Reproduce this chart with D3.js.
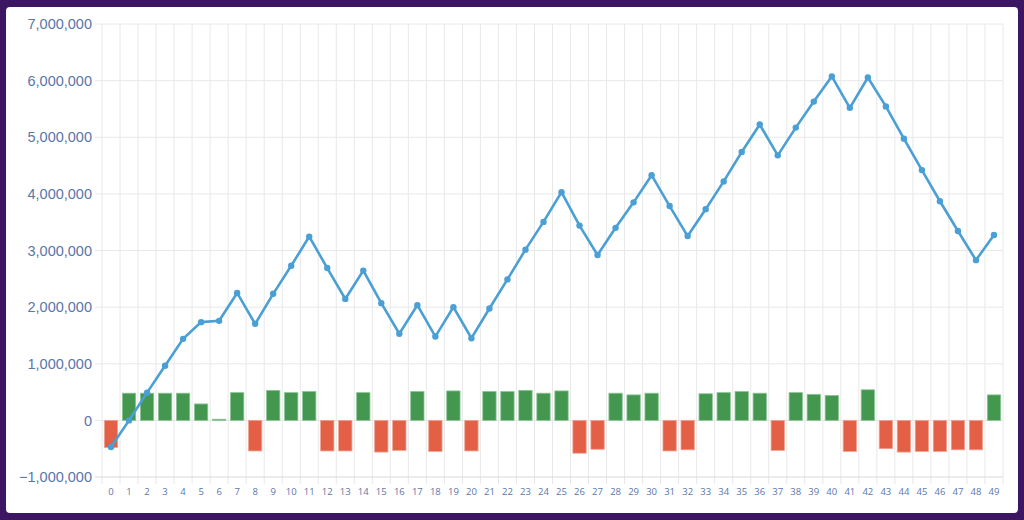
<!DOCTYPE html>
<html>
<head>
<meta charset="utf-8">
<script src="https://cdn.jsdelivr.net/npm/d3@7"></script>
<style>
  html, body { margin: 0; padding: 0; background: #3c1662; }
  #chart { position: absolute; left: 6px; top: 7px; width: 1012px; height: 506px; background: #fff; border-radius: 4px; }
  svg { position: absolute; left: 0; top: 0; }
</style>
</head>
<body>
<div id="chart"></div>
<script>
// categories 0..49
var categories = ["0","1","2","3","4","5","6","7","8","9","10","11","12","13","14","15","16","17","18","19",
  "20","21","22","23","24","25","26","27","28","29","30","31","32","33","34","35","36","37","38","39",
  "40","41","42","43","44","45","46","47","48","49"];

// bar values (per-step change)
var barValues = [-480000, 480000, 480000, 480000, 480000, 290000, 20000, 490000, -540000, 530000,
  490000, 510000, -540000, -540000, 490000, -560000, -530000, 510000, -550000, 520000,
  -540000, 510000, 510000, 530000, 480000, 520000, -580000, -510000, 480000, 450000,
  480000, -540000, -520000, 470000, 490000, 510000, 480000, -530000, 490000, 460000,
  440000, -550000, 540000, -500000, -560000, -550000, -550000, -520000, -520000, 450000];

// line values (running total)
var lineValues = [-470000, 0, 490000, 965000, 1440000, 1735000, 1758000, 2250000, 1705000, 2235000,
  2730000, 3245000, 2690000, 2145000, 2645000, 2070000, 1530000, 2035000, 1480000, 2000000,
  1450000, 1975000, 2490000, 3015000, 3505000, 4030000, 3440000, 2920000, 3400000, 3850000,
  4330000, 3785000, 3255000, 3730000, 4220000, 4740000, 5225000, 4680000, 5170000, 5630000,
  6075000, 5520000, 6055000, 5545000, 4975000, 4420000, 3870000, 3345000, 2830000, 3275000];

var yTicks = [-1000000, 0, 1000000, 2000000, 3000000, 4000000, 5000000, 6000000, 7000000];

var W = 1024, H = 520;
var margin = { left: 102, right: 21, top: 24, bottom: 43 };

var svg = d3.select("body").append("svg").attr("width", W).attr("height", H);

var x = d3.scaleBand().domain(categories).range([margin.left, W - margin.right]);
var y = d3.scaleLinear().domain([-1000000, 7000000]).range([H - margin.bottom, margin.top]);

var labelColor = "#5a76a9";
var gridColor = "#e8e8e8";

// vertical grid at band edges
var edges = categories.map(function (c) { return x(c); }).concat([x.range()[1]]);
svg.append("g").attr("class", "vgrid")
  .selectAll("line").data(edges).join("line")
  .attr("x1", function (d) { return d; }).attr("x2", function (d) { return d; })
  .attr("y1", y(7000000)).attr("y2", y(-1000000) + 7)
  .attr("stroke", gridColor).attr("stroke-width", 1);

// horizontal grid
svg.append("g").attr("class", "hgrid")
  .selectAll("line").data(yTicks).join("line")
  .attr("x1", margin.left - 7).attr("x2", x.range()[1])
  .attr("y1", function (d) { return y(d); }).attr("y2", function (d) { return y(d); })
  .attr("stroke", function (d) { return d === -1000000 ? "#d9d9d9" : gridColor; })
  .attr("stroke-width", 1);

// y axis labels
var yAxis = svg.append("g").attr("class", "y_axis")
  .attr("transform", "translate(" + (margin.left - 7) + ",0)")
  .call(d3.axisLeft(y).tickValues(yTicks).tickSize(0).tickPadding(3).tickFormat(d3.format(",")));
yAxis.select(".domain").remove();
yAxis.selectAll("text")
  .attr("fill", labelColor)
  .style("font-family", "'Liberation Sans', Arial, sans-serif")
  .style("font-size", "14.5px");

// x axis labels
var xAxis = svg.append("g").attr("class", "x_axis")
  .attr("transform", "translate(0," + (y(-1000000) + 7) + ")")
  .call(d3.axisBottom(x).tickSize(0).tickPadding(4));
xAxis.select(".domain").remove();
xAxis.selectAll("text")
  .attr("fill", labelColor)
  .style("font-family", "'Open Sans', sans-serif")
  .style("font-size", "9.5px");

// bars
var bw = x.bandwidth() * 0.74;
svg.append("g").attr("class", "rects")
  .selectAll("rect").data(barValues).join("rect")
  .attr("x", function (d, i) { return x(categories[i]) + (x.bandwidth() - bw) / 2; })
  .attr("y", function (d) { return y(Math.max(d, 0)); })
  .attr("width", bw)
  .attr("height", function (d) { return Math.abs(y(d) - y(0)); })
  .attr("fill", function (d) { return d >= 0 ? "#43974f" : "#e35f45"; })
  .attr("stroke", function (d) { return d >= 0 ? "#8cc496" : "#f0a393"; })
  .attr("stroke-width", 0.8);

// line
var line = d3.line()
  .x(function (d, i) { return x(categories[i]) + x.bandwidth() / 2; })
  .y(function (d) { return y(d); });

svg.append("path").datum(lineValues)
  .attr("d", line)
  .attr("fill", "none")
  .attr("stroke", "#4a9fd5")
  .attr("stroke-width", 2.6)
  .attr("stroke-linejoin", "miter");

svg.append("g").attr("class", "points")
  .selectAll("circle").data(lineValues).join("circle")
  .attr("cx", function (d, i) { return x(categories[i]) + x.bandwidth() / 2; })
  .attr("cy", function (d) { return y(d); })
  .attr("r", 3.2)
  .attr("fill", "#4a9fd5");
</script>
</body>
</html>
